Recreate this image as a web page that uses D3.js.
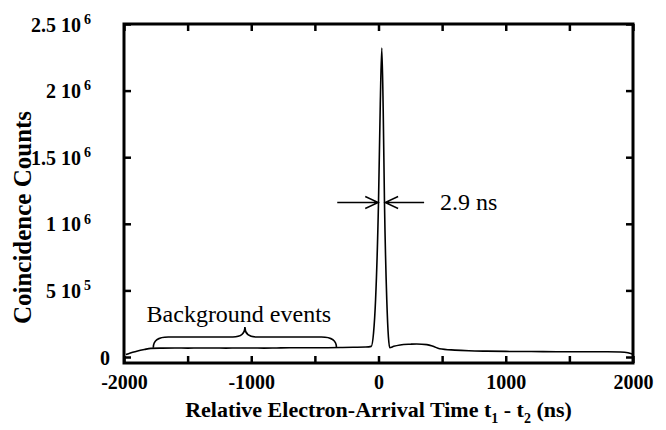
<!DOCTYPE html>
<html>
<head>
<meta charset="utf-8">
<script src="https://cdn.jsdelivr.net/npm/d3@7"></script>
<style>
  body { margin: 0; background: #fff; }
  svg text { font-family: "Liberation Serif", "Times New Roman", serif; fill: #000; }
</style>
</head>
<body>
<script>
// Data
const times = [-1985, -1950, -1900, -1840, -1790, -1700, -1600, -1500, -1400, -1300, -1200, -1100,
  -1000, -900, -800, -700, -600, -500, -400, -300, -200, -100, -57, -39, -23, 0, 14, 26, 37,
  47, 65, 78, 88, 120, 170, 250, 300, 380, 430, 480, 600, 710, 850, 1000, 1200, 1400, 1600,
  1800, 1900, 1960, 1995];
const counts = [18000, 30000, 43000, 56000, 65000, 67000, 68000, 67000, 68000, 68000, 67000, 68000,
  68000, 67000, 68000, 69000, 69000, 70000, 70000, 71000, 73000, 75000, 80000, 180000, 430000,
  1160000, 1900000, 2320000, 1850000, 1160000, 430000, 150000, 70000, 80000, 90000, 96000,
  98000, 93000, 80000, 62000, 52000, 47000, 44000, 42000, 41000, 40000, 40000, 40000, 38000,
  32000, 22000];

const xTicks = [-2000, -1500, -1000, -500, 0, 500, 1000, 1500, 2000];
const xTickLabels = ['-2000', '', '-1000', '', '0', '', '1000', '', '2000'];
const yTicks = [0, 500000, 1000000, 1500000, 2000000, 2500000];
const yTickLabels = ['0', '5 10^5', '1 10^6', '1.5 10^6', '2 10^6', '2.5 10^6'];

const bracket = [-1770, -330];   // range of "Background events"
const fwhmLevel = 1160000;        // height of the 2.9 ns arrows

const W = 666, H = 430;
const plot = { left: 124, right: 633, top: 24, bottom: 363 };
const serif = '"Liberation Serif", "Times New Roman", serif';

const svg = d3.select('body').append('svg')
  .attr('width', W)
  .attr('height', H)
  .style('font-family', serif);

const x = d3.scaleLinear().domain([-2000, 2000]).range([plot.left, plot.right]);
const y = d3.scaleLinear().domain([-45000, 2500000]).range([plot.bottom, plot.top]);

// axes, ticks pointing inward on all four sides
const tick = 7;
svg.append('g')
  .attr('transform', `translate(0,${plot.bottom})`)
  .call(d3.axisBottom(x).tickValues(xTicks).tickSize(-tick).tickPadding(tick + 5)
    .tickFormat((d, i) => xTickLabels[i]))
  .call(g => g.select('.domain').remove());
svg.append('g')
  .attr('transform', `translate(0,${plot.top})`)
  .call(d3.axisTop(x).tickValues(xTicks).tickSize(-tick).tickFormat(''))
  .call(g => g.select('.domain').remove());
const yAxis = svg.append('g')
  .attr('transform', `translate(${plot.left},0)`)
  .call(d3.axisLeft(y).tickValues(yTicks).tickSize(-tick).tickFormat(''))
  .call(g => g.select('.domain').remove());
svg.append('g')
  .attr('transform', `translate(${plot.right},0)`)
  .call(d3.axisRight(y).tickValues(yTicks).tickSize(-tick).tickFormat(''))
  .call(g => g.select('.domain').remove());

svg.selectAll('g').attr('font-family', serif);
svg.selectAll('.tick line').attr('stroke', '#000').attr('stroke-width', 2.5);
svg.selectAll('.tick text')
  .style('font-weight', 'bold')
  .style('font-size', '20px')
  .attr('fill', '#000');

// y labels written as mantissa 10^exp
yAxis.selectAll('.tick text').each(function (d, i) {
  const parts = yTickLabels[i].split('^');
  const t = d3.select(this).attr('dy', '0.35em').attr('x', parts[1] ? -33 : -14);
  t.append('tspan').text(parts[0]);
  if (parts[1]) {
    t.append('tspan').attr('dx', 3).attr('dy', '-0.55em').style('font-size', '14px').text(parts[1]);
  }
});

// frame
svg.append('rect')
  .attr('x', plot.left).attr('y', plot.top)
  .attr('width', plot.right - plot.left).attr('height', plot.bottom - plot.top)
  .attr('fill', 'none').attr('stroke', '#000').attr('stroke-width', 3);

// curve
const line = d3.line()
  .x(d => x(d[0]))
  .y(d => y(d[1]))
  .curve(d3.curveMonotoneX);

svg.append('path')
  .datum(times.map((t, i) => [t, counts[i]]))
  .attr('fill', 'none')
  .attr('stroke', '#000')
  .attr('stroke-width', 1.6)
  .attr('d', line);

// brace over the background
const bx0 = x(bracket[0]), bx1 = x(bracket[1]), bm = (bx0 + bx1) / 2;
const by0 = y(70000), by1 = y(150000), by2 = y(225000);
svg.append('path')
  .attr('fill', 'none').attr('stroke', '#000').attr('stroke-width', 1.6)
  .attr('d', `M${bx0},${by0} Q${bx0},${by1} ${bx0 + 15},${by1} L${bm - 12},${by1}
    Q${bm},${by1} ${bm},${by2} Q${bm},${by1} ${bm + 12},${by1} L${bx1 - 15},${by1}
    Q${bx1},${by1} ${bx1},${by0}`);

svg.append('text')
  .attr('x', bm - 6).attr('y', 322)
  .attr('text-anchor', 'middle')
  .style('font-size', '24px')
  .text('Background events');

// FWHM arrows
const ay = y(fwhmLevel);
const arrow = svg.append('g').attr('stroke', '#000').attr('stroke-width', 1.4).attr('fill', 'none');
const lTip = x(-2), rTip = x(52);
arrow.append('path').attr('d', `M${lTip - 41},${ay} L${lTip},${ay} M${lTip - 13},${ay - 6} L${lTip},${ay} L${lTip - 13},${ay + 6}`);
arrow.append('path').attr('d', `M${rTip + 39},${ay} L${rTip},${ay} M${rTip + 13},${ay - 6} L${rTip},${ay} L${rTip + 13},${ay + 6}`);

svg.append('text')
  .attr('x', rTip + 55).attr('y', ay + 8)
  .style('font-size', '24px')
  .text('2.9 ns');

// axis titles
const xt = svg.append('text')
  .attr('x', (plot.left + plot.right) / 2).attr('y', 417)
  .attr('text-anchor', 'middle')
  .style('font-weight', 'bold').style('font-size', '22px');
xt.append('tspan').text('Relative Electron-Arrival Time t');
xt.append('tspan').attr('dy', 6).style('font-size', '14px').text('1');
xt.append('tspan').attr('dy', -6).text(' - t');
xt.append('tspan').attr('dy', 6).style('font-size', '14px').text('2');
xt.append('tspan').attr('dy', -6).text(' (ns)');

svg.append('text')
  .attr('transform', `translate(31,${(plot.top + plot.bottom) / 2 + 24}) rotate(-90)`)
  .attr('text-anchor', 'middle')
  .style('font-weight', 'bold').style('font-size', '25px')
  .text('Coincidence Counts');
</script>
</body>
</html>
